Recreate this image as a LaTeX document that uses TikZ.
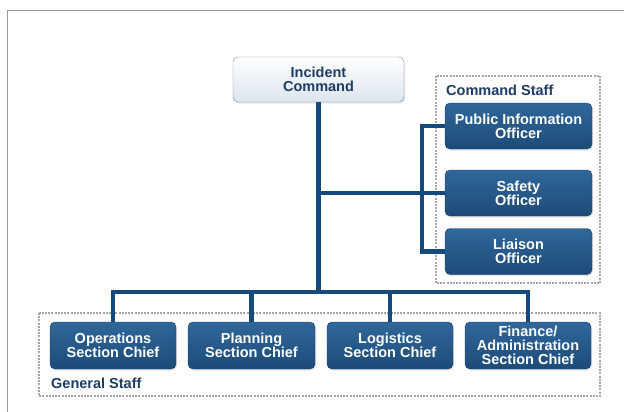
\documentclass[tikz,border=0pt]{standalone}
\usepackage{fontspec}
\setmainfont{Liberation Sans}
\usepackage{tikz}
\usetikzlibrary{shadows}

\definecolor{boxtop}{HTML}{30679A}
\definecolor{boxbot}{HTML}{1D4B78}
\definecolor{edgeblue}{HTML}{163E66}
\definecolor{linkblue}{HTML}{174A7C}
\definecolor{labelblue}{HTML}{1E3C66}
\definecolor{cmdbot}{HTML}{DCE5EE}
\definecolor{cmdedge}{HTML}{7A8EA3}

\begin{document}
\begin{tikzpicture}[x=1pt,y=-1pt,
  role/.style={draw=edgeblue, rounded corners=5pt, top color=boxtop, bottom color=boxbot,
    text=white, font=\fontsize{14.5}{14}\selectfont\bfseries, align=center,
    minimum width=126pt, minimum height=47pt, inner sep=0pt,
    drop shadow={opacity=0.2, shadow xshift=1pt, shadow yshift=-1.5pt}},
  staff/.style={draw=gray!70, line width=1.4pt, dash pattern=on 2pt off 1.2pt},
  staffname/.style={text=labelblue, font=\fontsize{14.5}{14}\selectfont\bfseries, anchor=west, inner sep=0pt},
  link/.style={draw=linkblue, line width=4.5pt}]
\useasboundingbox (0,0) rectangle (624,412);
\draw[gray!80, line width=1pt] (7,412) -- (7,11) -- (624,11);

\draw[staff] (436,76) rectangle (600,283);
\node[staffname] (cstaff) at (446,90) {Command Staff};
\draw[staff] (39,313) rectangle (600,396);
\node[staffname] (gstaff) at (51,383) {General Staff};

\node[role, draw=cmdedge, top color=white, bottom color=cmdbot, text=labelblue,
  minimum width=171pt, minimum height=45pt] (cmd) at (318.5,79.5) {Incident\\Command};

\node[role, minimum width=147pt, minimum height=46pt] (pio) at (518.5,126) {Public Information\\Officer};
\node[role, minimum width=147pt, minimum height=46pt] (safety) at (518.5,193) {Safety\\Officer};
\node[role, minimum width=147pt, minimum height=46pt] (liaison) at (518.5,251.5) {Liaison\\Officer};

\node[role] (ops) at (113,345.5) {Operations\\Section Chief};
\node[role, minimum width=127pt] (plan) at (251.5,345.5) {Planning\\Section Chief};
\node[role] (logi) at (390,345.5) {Logistics\\Section Chief};
\node[role] (fin) at (528,345.5) {Finance/\\Administration\\Section Chief};

\coordinate (bus) at (318,292);
\coordinate (rail) at (422,0);

\draw[link] (cmd.south) -- (cmd.south |- bus);
\draw[link] (ops.north) -- (ops.north |- bus) -- (fin.north |- bus) -- (fin.north);
\draw[link] (plan.north) -- (plan.north |- bus);
\draw[link] (logi.north) -- (logi.north |- bus);

\draw[link] (cmd.south |- safety.west) -- (safety.west);
\draw[link] (pio.west) -- (rail |- pio.west) -- (rail |- liaison.west) -- (liaison.west);
\end{tikzpicture}
\end{document}
